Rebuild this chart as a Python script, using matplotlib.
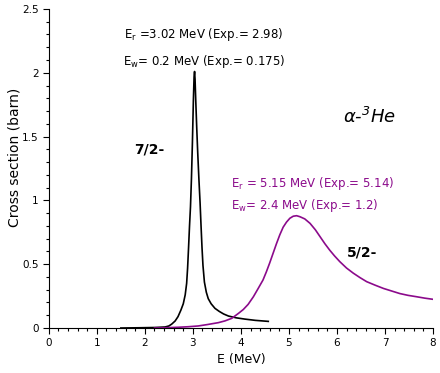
import matplotlib
matplotlib.use("Agg")
import matplotlib.pyplot as plt
from matplotlib.ticker import MultipleLocator

plt.rcParams['mathtext.default'] = 'regular'
plt.rcParams['font.family'] = ['DejaVu Sans']

# 7/2- resonance (black)
e_72 = [1.5, 1.9, 2.2, 2.42, 2.5, 2.56, 2.63, 2.69, 2.75, 2.80, 2.84, 2.87, 2.89, 2.91,
        2.93, 2.95, 2.97, 2.99, 3.01, 3.025, 3.035, 3.045, 3.06, 3.08, 3.10, 3.125, 3.15,
        3.17, 3.19, 3.21, 3.24, 3.28, 3.32, 3.38, 3.46, 3.55, 3.64, 3.74, 3.9, 4.08, 4.3, 4.57]
s_72 = [0.0, 0.002, 0.004, 0.008, 0.016, 0.031, 0.055, 0.089, 0.14, 0.19, 0.26, 0.35, 0.47, 0.63,
        0.80, 0.95, 1.17, 1.45, 1.78, 1.97, 2.01, 1.95, 1.78, 1.57, 1.38, 1.17, 0.98,
        0.80, 0.63, 0.49, 0.36, 0.28, 0.23, 0.19, 0.154, 0.13, 0.11, 0.094, 0.08, 0.07, 0.06, 0.052]

# 5/2- resonance (purple)
e_52 = [2.2, 2.42, 2.7, 2.9, 3.11, 3.3, 3.53, 3.67, 3.81, 3.95, 4.05, 4.15, 4.26, 4.36, 4.46,
        4.53, 4.60, 4.67, 4.74, 4.81, 4.88, 4.95, 5.02, 5.09, 5.16, 5.23, 5.33, 5.44, 5.55,
        5.65, 5.75, 5.85, 5.95, 6.06, 6.2, 6.34, 6.48, 6.62, 6.8, 6.97, 7.14, 7.31, 7.48,
        7.66, 7.83, 8.0]
s_52 = [0.0, 0.002, 0.006, 0.010, 0.016, 0.027, 0.042, 0.056, 0.076, 0.115, 0.145, 0.185, 0.245, 0.31, 0.376,
        0.44, 0.51, 0.585, 0.66, 0.73, 0.79, 0.83, 0.86, 0.876, 0.88, 0.872, 0.855, 0.82, 0.77,
        0.715, 0.66, 0.61, 0.565, 0.52, 0.47, 0.43, 0.395, 0.363, 0.335, 0.31, 0.29, 0.27, 0.256,
        0.245, 0.234, 0.225]

xticks = [0, 1, 2, 3, 4, 5, 6, 7, 8]
yticks = [0, 0.5, 1, 1.5, 2, 2.5]
yticklabels = ['0', '0.5', '1', '1.5', '2', '2.5']

purple = '#8b0a8b'

fig = plt.figure(figsize=(4.4, 3.73), dpi=100)
ax = fig.add_axes([0.111, 0.1206, 0.873, 0.8554])

ax.plot(e_72, s_72, color='black', lw=1.2)
ax.plot(e_52, s_52, color=purple, lw=1.2)

ax.set_xlim(0, 8)
ax.set_ylim(0, 2.5)
ax.set_xticks(xticks)
ax.set_xticklabels([str(t) for t in xticks])
ax.set_yticks(yticks)
ax.set_yticklabels(yticklabels)
ax.xaxis.set_minor_locator(MultipleLocator(0.2))
ax.yaxis.set_minor_locator(MultipleLocator(0.1))
ax.tick_params(which='both', direction='out', labelsize=7.5, width=0.8)
ax.tick_params(which='major', length=4)
ax.tick_params(which='minor', length=2.5)
ax.spines['top'].set_visible(False)
ax.spines['right'].set_visible(False)

ax.set_xlabel('E (MeV)', fontsize=9, labelpad=3)
ax.set_ylabel('Cross section (barn)', fontsize=10)
ax.yaxis.set_label_coords(-0.07, 0.535)

ax.text(3.23, 2.30, r'E$_{r}$ =3.02 MeV (Exp.= 2.98)', ha='center', va='center', fontsize=8.5)
ax.text(3.23, 2.09, r'E$_{w}$= 0.2 MeV (Exp.= 0.175)', ha='center', va='center', fontsize=8.5)
ax.text(2.1, 1.40, '7/2-', ha='center', va='center', fontsize=10, fontweight='bold')
ax.text(6.52, 0.595, '5/2-', ha='center', va='center', fontsize=10, fontweight='bold')
ax.text(6.67, 1.65, r'$\alpha$-$^{3}$He', ha='center', va='center', fontsize=13, style='italic')
ax.text(5.5, 1.13, r'E$_{r}$ = 5.15 MeV (Exp.= 5.14)', ha='center', va='center', fontsize=8.5, color=purple)
ax.text(5.33, 0.96, r'E$_{w}$= 2.4 MeV (Exp.= 1.2)', ha='center', va='center', fontsize=8.5, color=purple)

fig.savefig('out.png', dpi=100)
